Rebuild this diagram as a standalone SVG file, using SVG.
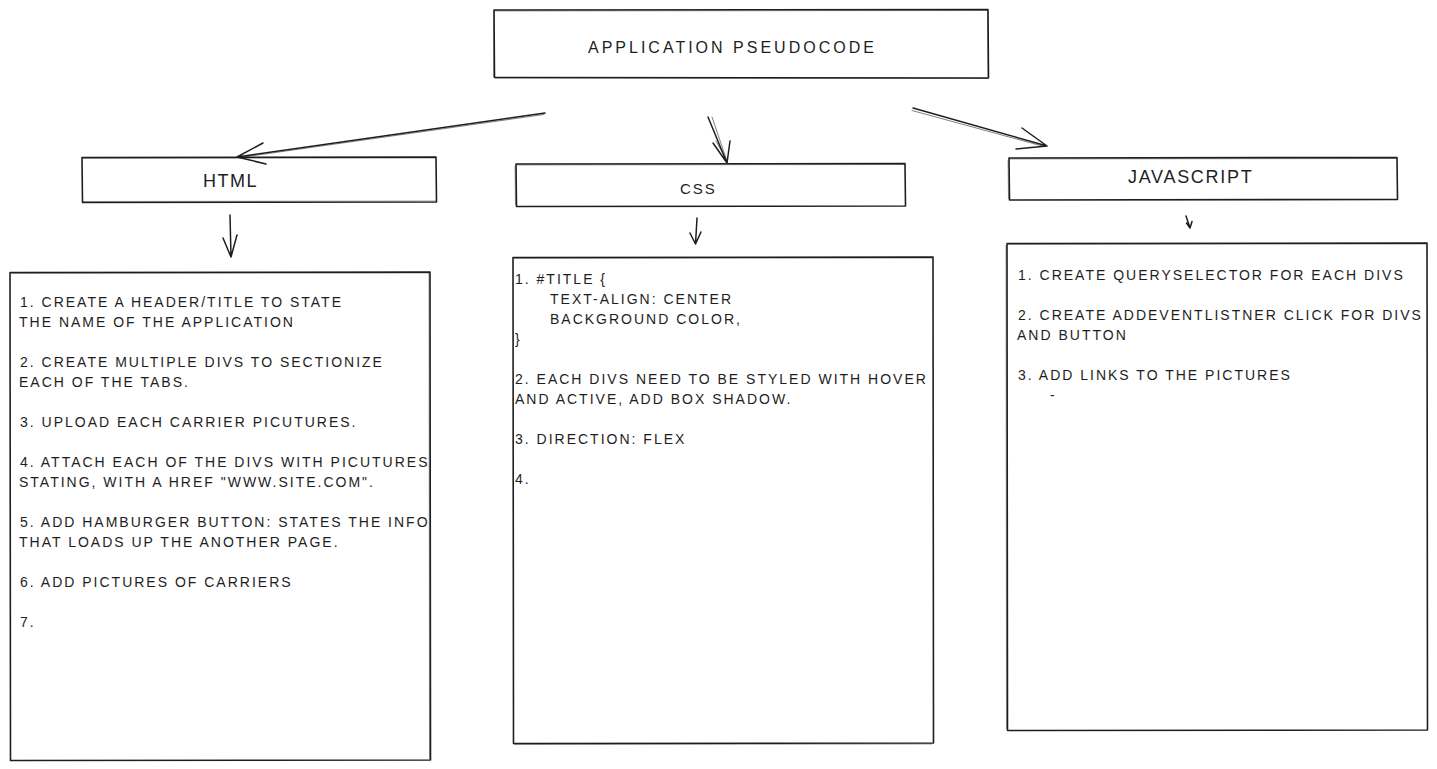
<svg xmlns="http://www.w3.org/2000/svg" width="1437" height="769" viewBox="0 0 1437 769">
<style>
.box{fill:#fff;stroke:#1e1e1e;stroke-width:1.6;stroke-linejoin:round}
.sk{fill:none;stroke:#1e1e1e;stroke-width:0.7;opacity:0.6}
.t{font-family:"Liberation Sans",Arial,sans-serif;font-size:14px;fill:#1e1e1e;letter-spacing:2px}
.lbl{font-family:"Liberation Sans",Arial,sans-serif;fill:#1e1e1e}
.ar{fill:none;stroke:#1e1e1e;stroke-width:1.5;stroke-linecap:round;stroke-linejoin:round}
.ar2{fill:none;stroke:#1e1e1e;stroke-width:0.8;stroke-linecap:round;opacity:0.7}
</style>
<rect width="1437" height="769" fill="#fff"/>

<g id="title">
<path class="box" d="M494,10 L988,9.5 L988.5,78 L494.5,77.5 Z"/>
<path class="sk" d="M495,11 L987,10.5 M987.5,11 L988,77 M988,78.5 L495,78 M493.5,77 L494,11"/>
<text class="lbl" x="588" y="53" font-size="16" letter-spacing="3">APPLICATION PSEUDOCODE</text>
</g>

<g id="html-head">
<path class="box" d="M82,157.5 L436,157 L436.5,202 L82.5,202.5 Z"/>
<path class="sk" d="M83,158.5 L435,158 M82,201.5 L436,201"/>
<text class="lbl" x="203" y="187" font-size="18" letter-spacing="1.5">HTML</text>
</g>

<g id="css-head">
<path class="box" d="M516,164 L905,163.5 L905.5,206 L516.5,206.5 Z"/>
<path class="sk" d="M517,165 L904,164.5 M515,166 L515.5,205"/>
<text class="lbl" x="680" y="194" font-size="15" letter-spacing="2">CSS</text>
</g>

<g id="js-head">
<path class="box" d="M1009,158 L1397,157.5 L1397.5,199.5 L1009.5,200 Z"/>
<path class="sk" d="M1010,159 L1396,158.5 M1008,160 L1008.5,199"/>
<text class="lbl" x="1128" y="183" font-size="18" letter-spacing="1.7">JAVASCRIPT</text>
</g>

<g id="html-body">
<path class="box" d="M10,272.5 L430,272 L430.5,760 L10.5,760.5 Z"/>
<path class="sk" d="M11,273.5 L429,273 M429,273 L429.5,759"/>
<text class="t" x="20" y="307">1. CREATE A HEADER/TITLE TO STATE</text>
<text class="t" x="19" y="327">THE NAME OF THE APPLICATION</text>
<text class="t" x="20" y="367">2. CREATE MULTIPLE DIVS TO SECTIONIZE</text>
<text class="t" x="19" y="387">EACH OF THE TABS.</text>
<text class="t" x="20" y="427">3. UPLOAD EACH CARRIER PICUTURES.</text>
<text class="t" x="20" y="467">4. ATTACH EACH OF THE DIVS WITH PICUTURES</text>
<text class="t" x="19" y="487">STATING, WITH A HREF "WWW.SITE.COM".</text>
<text class="t" x="20" y="527">5. ADD HAMBURGER BUTTON: STATES THE INFO</text>
<text class="t" x="19" y="547">THAT LOADS UP THE ANOTHER PAGE.</text>
<text class="t" x="20" y="587">6. ADD PICTURES OF CARRIERS</text>
<text class="t" x="20" y="627">7.</text>
</g>

<g id="css-body">
<path class="box" d="M513,257.5 L933,257 L933.5,743 L513.5,743.5 Z"/>
<path class="sk" d="M514,258.5 L932,258 M514,744.5 L932,744"/>
<text class="t" x="515" y="284">1. #TITLE {</text>
<text class="t" x="550" y="304">TEXT-ALIGN: CENTER</text>
<text class="t" x="550" y="324">BACKGROUND COLOR,</text>
<text class="t" x="515" y="344">}</text>
<text class="t" x="515" y="384">2. EACH DIVS NEED TO BE STYLED WITH HOVER</text>
<text class="t" x="515" y="404">AND ACTIVE, ADD BOX SHADOW.</text>
<text class="t" x="515" y="444">3. DIRECTION: FLEX</text>
<text class="t" x="515" y="484">4.</text>
</g>

<g id="js-body">
<path class="box" d="M1007,243.5 L1427,243 L1427.5,730 L1007.5,730.5 Z"/>
<path class="sk" d="M1008,244.5 L1426,244 M1006,245 L1006.5,729"/>
<text class="t" x="1018" y="280">1. CREATE QUERYSELECTOR FOR EACH DIVS</text>
<text class="t" x="1018" y="320">2. CREATE ADDEVENTLISTNER CLICK FOR DIVS</text>
<text class="t" x="1017" y="340">AND BUTTON</text>
<text class="t" x="1018" y="380">3. ADD LINKS TO THE PICTURES</text>
<text class="t" x="1050" y="400">-</text>
</g>

<g id="connectors">
<path class="ar" d="M545,113 L237,157 M263,143 L237,157 L266,164"/>
<path class="ar2" d="M544,114.5 L240,157.5"/>
<path class="ar" d="M708,117 L727,163 M713,143 L727,163 L730,141"/>
<path class="ar2" d="M712,117 L727,161 M716,141 L727,161"/>
<path class="ar" d="M913,108 L1047,146 M1022,128 L1047,146 L1016,149"/>
<path class="ar2" d="M912,110.5 L1044,146.5"/>
<path class="ar" d="M230,215 L231,257 M223,238 L231,257 L237,235"/>
<path class="ar" d="M697,218 L695.5,244 M690,233 L695.5,244 L701,232"/>
<path class="ar" d="M1186,216 L1190,228 M1186.5,223 L1190,228 L1192,221.5"/>
</g>
</svg>
